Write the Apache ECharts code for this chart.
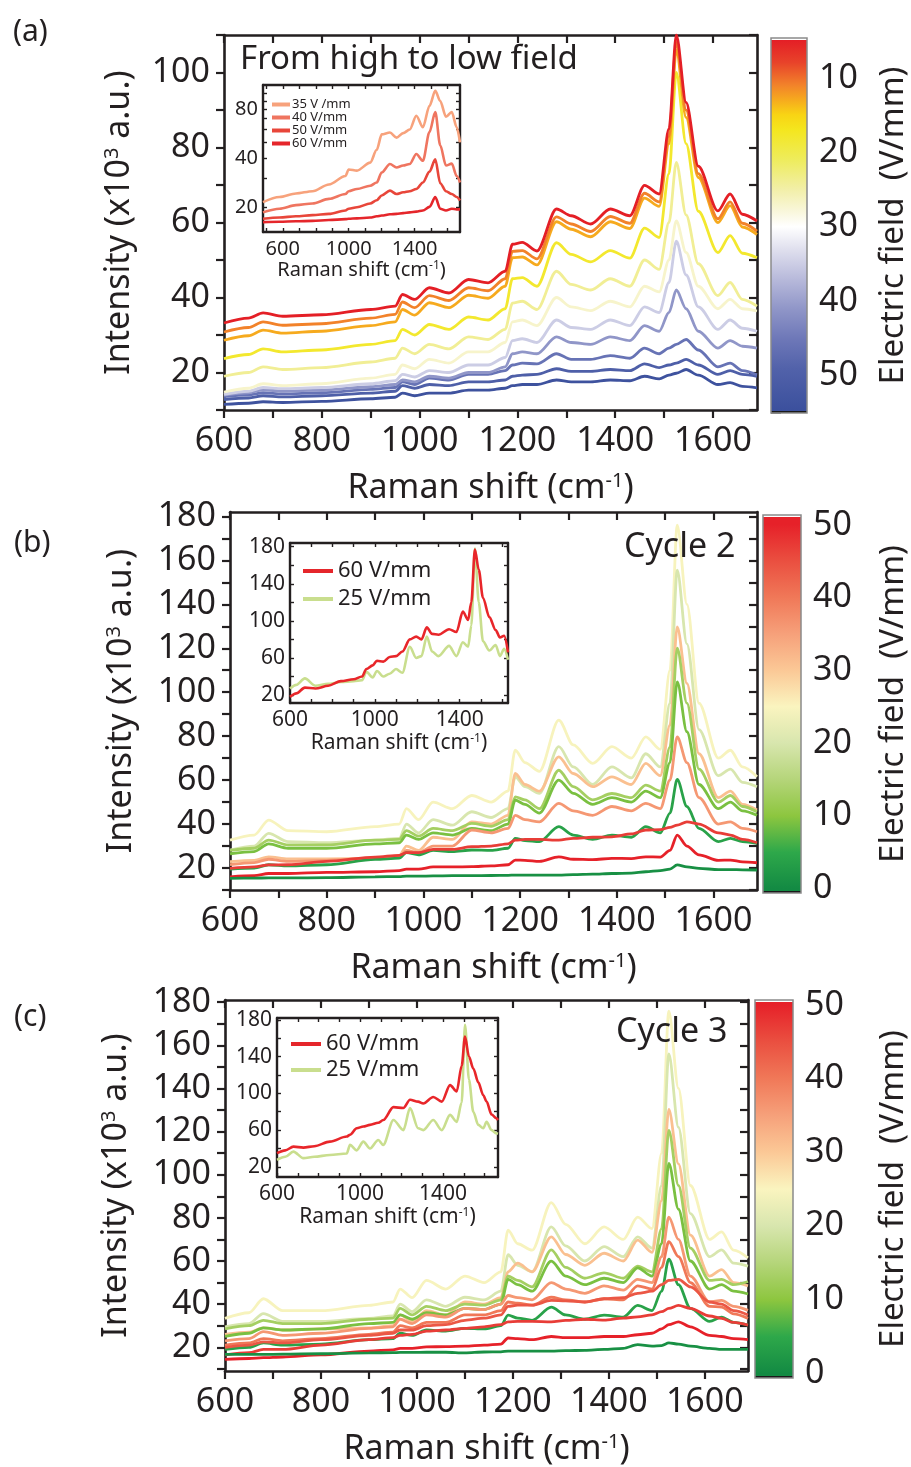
<!DOCTYPE html>
<html>
<head>
<meta charset="utf-8">
<script src="https://cdn.jsdelivr.net/npm/echarts@6/dist/echarts.min.js"></script>
<style>
  html, body { margin: 0; padding: 0; background: #fff; }
  #chart { width: 911px; height: 1467px; }
</style>
</head>
<body>
<div id="chart"></div>
<script>
// ---------- data ----------
// Raman shift sampling (cm-1) shared by all main-panel spectra
const shift = [600, 650, 680, 720, 800, 900, 950, 965, 990, 1020, 1060, 1100, 1140, 1175, 1190, 1210,
               1240, 1280, 1310, 1350, 1390, 1430, 1460, 1490, 1510, 1525, 1545, 1570, 1610, 1635, 1660, 1690];

// Panel (a): spectra recorded from high to low field, intensity in 10^3 a.u.
const fieldA = [5, 11, 13, 18, 24, 27, 35, 41, 46, 50, 54];
const specA1 = [33.2,34.5,35.9,35.0,35.4,36.8,37.7,40.8,39.5,42.6,41.2,44.8,43.9,47.0,54.2,54.7,52.4,63.6,61.8,59.6,63.6,61.8,69.9,67.6,85.0,110.0,92.0,75.0,63.1,67.6,62.2,60.4];
const specA2 = [30.8,32.0,33.5,32.6,33.0,34.5,35.5,38.8,37.3,40.5,39.2,42.6,41.8,45.0,52.3,52.5,50.3,61.5,59.6,57.6,61.6,59.8,67.8,65.5,83.0,108.0,90.0,73.0,61.0,65.5,59.8,57.7];
const specA3 = [28.6,29.8,31.3,30.5,31.0,32.5,33.5,36.8,35.3,38.6,37.3,40.6,39.8,43.0,50.6,50.8,48.7,60.2,58.2,56.2,60.2,58.4,66.5,64.3,81.0,106.0,88.0,72.0,60.0,64.5,58.8,56.8];
const specA4 = [23.7,24.8,26.3,25.5,26.0,27.5,28.5,31.5,30.0,32.8,31.5,34.8,34.0,37.0,45.0,45.3,43.0,54.6,51.5,49.5,52.5,50.5,58.5,56.0,73.0,100.0,81.0,63.0,52.0,56.5,51.8,50.6];
const specA5 = [19.0,20.0,21.5,20.8,21.3,22.8,23.8,26.5,25.0,27.5,26.3,29.5,28.8,31.5,38.5,39.0,36.8,47.0,43.5,42.0,45.0,43.0,50.0,47.5,60.0,76.0,62.0,49.0,40.5,44.0,39.5,37.7];
const specA6 = [14.8,15.8,17.0,16.5,17.0,18.5,19.5,22.0,21.0,23.5,22.5,25.5,25.5,28.0,33.5,34.0,32.5,40.0,37.5,36.5,39.0,37.5,43.0,41.5,50.0,60.4,52.0,43.0,37.0,39.5,37.0,36.4];
const specA7 = [14.2,15.0,16.0,15.7,16.0,17.0,17.8,19.5,18.8,20.5,20.0,22.0,22.0,24.0,28.5,29.0,28.0,34.0,32.0,31.5,34.0,32.5,37.5,36.0,44.0,55.0,46.0,37.5,31.5,34.0,31.8,31.0];
const specA8 = [14.0,14.6,15.4,15.0,15.3,16.2,16.8,18.0,17.5,19.0,18.5,20.0,20.0,21.5,25.0,25.5,25.0,29.5,28.0,27.5,29.5,28.5,32.5,31.0,36.0,42.0,37.0,31.0,26.5,28.5,27.0,26.5];
const specA9 = [13.6,14.0,14.6,14.3,14.6,15.5,16.0,17.5,16.8,18.5,18.0,19.5,19.5,20.5,22.0,22.5,22.3,25.0,23.5,23.5,24.5,23.8,26.5,25.0,26.5,27.5,28.8,26.0,21.5,22.5,20.5,19.4];
const specA10 = [12.8,13.2,13.8,13.5,13.8,14.5,15.0,16.5,15.8,16.8,16.5,17.5,17.5,18.0,19.0,19.3,19.5,21.0,20.3,20.3,20.8,20.5,22.3,21.3,22.0,22.5,23.5,22.0,19.5,20.5,19.5,19.0];
const specA11 = [11.5,11.8,12.2,12.0,12.3,13.0,13.4,14.5,13.8,14.5,14.5,15.3,15.3,15.8,16.5,16.8,16.8,18.0,17.5,17.5,18.0,17.8,19.0,18.3,19.3,19.8,20.8,19.3,16.8,17.3,16.3,15.9];
const spectraA = [specA1, specA2, specA3, specA4, specA5, specA6, specA7, specA8, specA9, specA10, specA11];

// Panel (a) inset
const insetShiftA = [480,580,680,780,880,980,1000,1050,1130,1170,1200,1250,1290,1330,1370,1410,1450,1490,1525,1555,1590,1625,1655,1675];
const insetNamesA = ['35 V /mm', '40 V/mm', '50 V/mm', '60 V/mm'];
const insA35 = [21.4,23.0,24.2,25.0,27.5,31.0,34.0,33.5,37.5,45.0,56.0,57.5,53.5,57.0,60.0,73.0,62.0,84.0,104.0,90.0,72.0,77.0,62.0,50.0];
const insA40 = [18.5,19.5,20.5,21.0,22.4,24.0,25.0,25.8,27.0,28.3,32.6,36.8,35.0,36.0,36.8,42.4,38.5,58.0,77.0,48.0,36.0,37.0,31.0,28.3];
const insA50 = [16.9,17.2,17.5,17.8,18.1,19.0,19.5,19.9,21.0,22.0,23.5,25.2,24.0,24.6,25.0,25.8,28.3,33.0,39.3,28.0,25.0,24.0,23.0,21.9];
const insA60 = [16.1,16.2,16.3,16.4,16.6,16.8,16.9,17.0,17.2,17.5,17.7,18.0,18.1,18.3,18.5,18.7,19.0,20.0,23.0,19.5,19.0,19.5,19.3,19.3];

// Panel (b): cycle 2
const fieldB = [24.5, 20, 31, 13, 9, 36, 4, 47, 50, 1];
const specB1 = [32.7,35.0,41.8,37.0,36.5,38.8,40.0,47.0,42.0,50.0,47.0,53.0,50.0,55.0,73.6,68.0,64.0,87.3,76.0,67.6,75.2,70.0,79.7,74.0,110.0,176.0,140.0,95.0,70.0,73.6,66.0,61.5];
const specB2 = [28.2,30.0,35.8,32.0,31.5,32.7,33.5,40.0,36.0,42.0,39.5,45.6,43.0,47.0,61.5,57.0,54.0,75.2,66.0,58.0,66.0,61.0,72.0,66.0,95.0,155.5,122.0,83.0,62.0,65.0,59.0,57.0];
const specB3 = [22.9,23.5,25.1,24.2,24.2,24.4,25.5,30.0,28.0,34.0,33.0,41.0,40.0,44.0,63.0,58.0,55.0,70.6,63.0,57.0,61.5,58.0,67.6,62.0,85.0,129.7,104.0,72.0,52.0,55.0,49.0,46.4];
const specB4 = [28.0,29.0,32.7,30.5,30.5,32.7,33.0,37.0,34.5,38.0,37.0,40.3,39.0,42.0,52.4,51.0,47.0,64.5,57.0,51.0,53.9,52.0,57.7,55.0,75.0,120.0,95.0,65.0,50.0,53.0,48.0,45.6];
const specB5 = [26.5,27.5,31.0,29.0,29.0,31.0,31.5,35.0,33.0,36.0,35.0,38.0,37.0,40.0,50.9,49.0,45.0,60.0,54.0,49.0,52.0,50.0,55.0,52.0,68.0,104.7,82.0,58.0,47.0,50.0,46.0,44.0];
const specB6 = [21.5,22.5,24.0,23.0,23.5,24.5,25.0,28.0,27.0,30.0,30.0,37.3,36.0,38.0,44.0,42.0,41.0,49.4,46.0,44.0,48.0,46.0,49.4,47.0,60.0,79.7,68.0,52.0,40.0,41.0,38.0,36.5];
const specB7 = [19.5,20.0,21.5,21.0,21.5,23.9,24.5,27.0,26.0,28.0,27.5,28.2,28.0,29.0,33.5,32.5,32.0,38.8,35.0,33.0,35.0,34.0,38.8,36.0,45.0,60.3,48.0,38.0,32.0,33.5,32.0,31.2];
const specB8 = [19.8,20.5,21.4,21.5,23.0,25.0,25.8,27.0,27.0,28.5,28.5,29.7,30.0,31.0,32.7,33.0,33.0,32.7,33.5,34.0,34.2,35.5,37.3,37.5,38.5,39.5,41.0,40.0,36.0,35.0,33.0,31.5];
const specB9 = [16.0,16.5,17.5,17.5,18.0,18.3,18.8,19.5,19.5,20.5,20.5,20.6,21.0,21.5,23.6,23.5,23.0,25.1,24.0,23.8,24.4,24.3,25.1,25.0,28.0,35.0,30.0,26.0,23.5,23.6,22.8,22.4];
const specB10 = [15.3,15.4,15.5,15.5,15.6,16.0,16.1,16.3,16.3,16.4,16.5,16.5,16.6,16.7,16.8,16.8,16.8,16.8,17.0,17.2,17.5,17.7,18.3,18.8,19.5,21.4,20.5,19.8,19.3,19.3,19.2,19.1];
const spectraB = [specB1, specB2, specB3, specB4, specB5, specB6, specB7, specB8, specB9, specB10];

// Panel (b) inset
const insetShiftB = [600,630,670,720,780,840,900,940,960,990,1010,1040,1070,1100,1130,1165,1195,1220,1245,1270,1300,1350,1385,1415,1440,1455,1472,1490,1510,1540,1570,1590,1610,1628];
const insB60 = [18,21.8,28,27,30,35,37,40,48,52,57,56,61,62,67,80,83,80,93,86,85,91,88,110,101,120,177,155,125,104,90,82,84,66];
const insB25 = [27,31,38,30,32,34,35,36,45,39,46,40,43,48,44,72,60,62,83,67,62,73,62,77,72,95,178,120,78,68,74,62,70,58];

// Panel (c): cycle 3
const fieldC = [24.5, 20, 31, 13, 9, 36, 40, 4, 44, 47, 50, 1];
const specC1 = [33.4,36.0,42.5,37.0,37.0,39.4,41.0,47.0,43.0,51.0,47.0,53.0,50.0,55.0,74.3,68.0,65.0,87.1,77.0,68.0,75.8,70.0,80.3,75.0,110.0,175.8,140.0,95.0,70.0,73.5,65.0,61.4];
const specC2 = [29.5,31.0,35.6,32.0,32.0,33.4,34.5,40.0,36.5,42.0,39.0,43.2,42.0,46.0,62.9,58.0,55.0,75.8,67.0,60.0,66.7,62.0,71.2,66.0,95.0,156.0,122.0,82.0,62.0,65.2,59.0,57.6];
const specC3 = [26.0,27.0,29.0,28.0,28.5,29.0,30.0,35.0,32.0,37.0,35.0,41.0,40.0,43.0,55.0,59.0,55.0,71.2,63.0,58.0,63.6,60.0,69.7,64.0,88.0,130.3,105.0,72.0,53.0,56.0,50.0,48.5];
const specC4 = [28.5,30.0,32.5,31.0,31.0,33.0,33.5,38.0,35.0,39.0,37.0,40.0,39.5,42.0,53.0,51.0,48.0,65.2,57.0,52.0,54.5,52.0,57.6,55.0,75.0,120.5,95.0,66.0,51.0,51.5,49.0,50.5];
const specC5 = [25.0,26.5,29.0,28.0,28.5,31.0,31.5,35.0,33.0,36.0,35.0,38.0,37.5,40.0,51.5,49.0,46.0,59.9,53.0,49.0,52.0,50.0,56.8,53.0,68.0,105.3,84.0,60.0,47.0,49.0,46.0,44.7];
const specC6 = [23.0,24.0,27.3,25.5,26.5,28.8,29.5,33.0,31.0,35.0,34.0,38.0,37.5,40.0,44.0,43.0,42.0,50.0,47.0,45.0,48.5,46.5,51.5,50.0,62.0,80.3,70.0,53.0,41.0,41.7,39.0,37.1];
const specC7 = [21.0,22.0,24.0,23.0,24.0,26.0,27.0,30.0,29.0,31.5,31.5,35.0,35.0,37.0,41.0,40.5,39.5,43.2,42.0,41.0,42.5,42.0,48.5,47.0,57.0,69.0,62.0,50.0,39.0,38.6,35.5,33.4];
const specC8 = [19.0,20.0,22.0,21.0,21.5,23.5,24.0,26.5,25.5,28.0,27.5,28.8,28.5,30.0,34.9,33.5,32.5,38.6,35.0,33.0,34.9,34.0,39.4,37.0,46.0,60.9,49.0,38.0,32.0,34.0,31.5,30.3];
const specC9 = [20.0,21.0,22.5,22.0,23.5,25.5,26.5,28.0,28.0,30.0,30.5,32.5,33.5,35.0,39.0,39.5,39.5,41.7,41.5,41.0,42.5,43.0,45.0,46.0,49.0,51.0,51.5,48.0,41.0,40.0,37.0,35.0];
const specC10 = [16.5,17.5,19.0,19.0,21.0,23.5,24.5,25.5,26.0,27.5,28.0,28.8,29.5,30.5,31.8,32.0,32.0,31.8,32.5,33.0,32.6,33.5,34.1,35.0,36.5,38.0,39.4,38.0,34.5,33.4,31.5,30.3];
const specC11 = [14.4,14.8,15.2,15.5,16.5,18.2,18.8,19.5,19.5,20.2,20.3,20.5,21.0,21.5,24.3,24.0,23.5,25.0,24.5,24.5,25.0,25.0,25.8,26.5,28.5,30.5,31.8,29.5,25.5,25.0,24.0,23.5];
const specC12 = [16.7,16.7,16.7,16.8,17.0,17.4,17.5,17.6,17.6,17.7,17.7,17.4,17.8,17.9,18.2,18.2,18.2,18.2,18.4,18.6,19.0,19.5,21.2,20.5,20.8,22.0,21.5,20.5,19.5,19.0,19.0,19.0];
const spectraC = [specC1, specC2, specC3, specC4, specC5, specC6, specC7, specC8, specC9, specC10, specC11, specC12];

// Panel (c) inset
const insetShiftC = [600,640,679,727,780,855,936,952,984,1016,1048,1088,1112,1161,1209,1241,1280,1305,1353,1394,1434,1466,1490,1506,1525,1546,1570,1594,1610,1634,1657,1665];
const insC60 = [34.9,38,42,41,42.5,47.5,53,55,62,64,65.7,68,71,85,84,93,91,89,96,91,109,102,130,161.8,140,127,112,98,91,77,73,71];
const insC25 = [27.6,31,36.6,29.5,31,33,34.6,43.9,38,47.5,40,49.3,43.9,71,60,83.9,62,60,71,60,76.6,69,90,174.5,115,80,65.7,62,69,60,56.5,56];

// Tick and label values
const xTickVals = [600,700,800,900,1000,1100,1200,1300,1400,1500,1600];
const xLabelVals = [600,800,1000,1200,1400,1600];
const yTicksA = [10,20,30,40,50,60,70,80,90,100,110];
const yLabelsA = [20,40,60,80,100];
const yTicksBC = [10,20,30,40,50,60,70,80,90,100,110,120,130,140,150,160,170,180];
const yLabelsBC = [20,40,60,80,100,120,140,160,180];
const insetXLabels = [600,1000,1400];
const cbarTicksA = [5,10,15,20,25,30,35,40,45,50,55];
const cbarLabelsA = [10,20,30,40,50];
const cbarTicksBC = [0,5,10,15,20,25,30,35,40,45,50];
const cbarLabelsBC = [0,10,20,30,40,50];

// ---------- colour maps (field in V/mm -> colour) ----------
const cmapA = [[5,'#e41f26'],[8,'#e8432a'],[11,'#f2822a'],[13,'#f6aa1e'],[15,'#f8d414'],[17,'#f4e61e'],
               [21,'#eeec5c'],[25,'#f2efa8'],[28,'#f9f7dc'],[30,'#ffffff'],[33,'#e0e0ee'],[37,'#b8badb'],
               [41,'#9096c8'],[45,'#6e78b8'],[49,'#5262aa'],[55,'#3a4f9c']];
const cmapBC = [[0,'#138a43'],[5,'#2ea84a'],[10,'#8dc63f'],[15,'#b5d57a'],[20,'#d8e6ae'],[25,'#faf4bf'],
                [30,'#fbc896'],[35,'#f6a07a'],[40,'#f07858'],[45,'#ea4f40'],[50,'#e62129']];

function rgb(h) { return [1,3,5].map(i => parseInt(h.slice(i, i + 2), 16)); }
function colorAt(cmap, v) {
  if (v <= cmap[0][0]) return cmap[0][1];
  for (let i = 1; i < cmap.length; i++) {
    if (v <= cmap[i][0]) {
      const t = (v - cmap[i - 1][0]) / (cmap[i][0] - cmap[i - 1][0]);
      const a = rgb(cmap[i - 1][1]), b = rgb(cmap[i][1]);
      return 'rgb(' + a.map((c, k) => Math.round(c + (b[k] - c) * t)).join(',') + ')';
    }
  }
  return cmap[cmap.length - 1][1];
}

// ---------- layout helpers ----------
const FONT = 'Noto Sans';
const INK = '#231f20';
const plain = v => String(Math.round(v));
const grids = [], xAxes = [], yAxes = [], series = [];

function sup(main, s, size, supSize) {
  return {
    text: '{t|' + main[0] + '}{s|' + s + '}{t|' + main[1] + '}',
    rich: {
      t: { fontSize: size, fontFamily: FONT, color: INK },
      s: { fontSize: supSize, fontFamily: FONT, color: INK, verticalAlign: 'top' }
    }
  };
}

// a framed plot: labelled bottom/left axes plus mirrored top/right axes
function framedPlot(box, c) {
  const g = grids.length;
  grids.push(Object.assign({ containLabel: false }, box, c.bg ? { show: true, backgroundColor: '#fff', borderWidth: 0 } : {}));
  const line = { show: true, onZero: false, lineStyle: { color: INK, width: c.lw } };
  const xi = xAxes.length, yi = yAxes.length;
  const xn = sup(['Raman shift (cm', ')'], '-1', c.nameSize, c.supSize);
  xAxes.push({
    gridIndex: g, type: 'value', min: c.x[0], max: c.x[1], position: 'bottom',
    axisLine: line,
    axisTick: { show: true, inside: c.inTick, length: c.tick, customValues: c.xTicks, lineStyle: { color: INK, width: c.tw } },
    axisLabel: { customValues: c.xLabels, formatter: plain, color: INK, fontSize: c.fs, fontFamily: FONT, margin: c.xm },
    splitLine: { show: false },
    name: xn.text, nameLocation: 'middle', nameGap: c.xGap, nameTextStyle: { rich: xn.rich }
  });
  xAxes.push({
    gridIndex: g, type: 'value', min: c.x[0], max: c.x[1], position: 'top',
    axisLine: line,
    axisTick: { show: true, inside: true, length: c.tick, customValues: c.xTicks, lineStyle: { color: INK, width: c.tw } },
    axisLabel: { show: false }, splitLine: { show: false }
  });
  const yl = {
    gridIndex: g, type: c.yType || 'value', min: c.y[0], max: c.y[1], position: 'left',
    axisLine: line,
    axisTick: { show: true, inside: c.inTick, length: c.tick, customValues: c.yTicks, lineStyle: { color: INK, width: c.tw } },
    axisLabel: { customValues: c.yLabels, formatter: plain, color: INK, fontSize: c.fs, fontFamily: FONT, margin: c.ym },
    splitLine: { show: false }, minorSplitLine: { show: false }
  };
  if (c.yName) {
    const yn = sup(['Intensity (x10', ' a.u.)'], '3', c.nameSize, c.supSize);
    Object.assign(yl, { name: yn.text, nameLocation: 'middle', nameRotate: 90, nameGap: c.yGap, nameTextStyle: { rich: yn.rich } });
  }
  yAxes.push(yl);
  yAxes.push({
    gridIndex: g, type: c.yType || 'value', min: c.y[0], max: c.y[1], position: 'right',
    axisLine: line,
    axisTick: { show: true, inside: true, length: c.tick, customValues: c.yTicks, lineStyle: { color: INK, width: c.tw } },
    axisLabel: { show: false }, splitLine: { show: false }
  });
  return { x: xi, y: yi };
}

function addLine(ax, xs, ys, color, width, name, z) {
  series.push({
    type: 'line', name: name, xAxisIndex: ax.x, yAxisIndex: ax.y,
    data: xs.map((x, i) => [x, ys[i]]),
    showSymbol: false, smooth: 0.3, smoothMonotone: 'x', z: z || 2,
    color: color, lineStyle: { color: color, width: width }, silent: true
  });
}

// colour bar: its own grid, a value axis on the right, and a gradient rect
function colorBar(box, c) {
  const g = grids.length;
  grids.push(Object.assign({}, box));
  const xi = xAxes.length, yi = yAxes.length;
  xAxes.push({ gridIndex: g, type: 'value', min: 0, max: 1, show: false });
  yAxes.push({
    gridIndex: g, type: 'value', min: c.lo, max: c.hi, inverse: !!c.inverse, position: 'right',
    axisLine: { show: false },
    axisTick: { show: true, inside: false, length: 10, customValues: c.ticks, lineStyle: { color: '#555', width: 1.5 } },
    axisLabel: { customValues: c.labels, formatter: plain, color: INK, fontSize: 34, fontFamily: FONT, margin: 12 },
    splitLine: { show: false },
    name: 'Electric field  (V/mm)', nameLocation: 'middle', nameRotate: 90, nameGap: c.nameGap,
    nameTextStyle: { fontSize: 33, fontFamily: FONT, color: INK }
  });
  const span = c.hi - c.lo;
  const off = v => (v - c.lo) / span;
  series.push({
    type: 'custom', xAxisIndex: xi, yAxisIndex: yi, silent: true,
    data: [[0.5, (c.lo + c.hi) / 2]],
    renderItem(params, api) {
      const p = api.coord([0, c.lo]), q = api.coord([1, c.hi]);
      const stops = [{ offset: 0, color: c.loStrip[1] }, { offset: off(c.loStrip[0]), color: c.loStrip[1] },
                     { offset: off(c.loStrip[0]) + 0.0005, color: colorAt(c.cmap, c.loStrip[0]) }];
      c.cmap.forEach(([v, col]) => {
        if (v > c.loStrip[0] && v < c.hiStrip[0]) stops.push({ offset: off(v), color: col });
      });
      stops.push({ offset: off(c.hiStrip[0]) - 0.0005, color: colorAt(c.cmap, c.hiStrip[0]) });
      stops.push({ offset: off(c.hiStrip[0]), color: c.hiStrip[1] }, { offset: 1, color: c.hiStrip[1] });
      const down = p[1] < q[1];
      return {
        type: 'rect',
        shape: { x: Math.min(p[0], q[0]), y: Math.min(p[1], q[1]), width: Math.abs(q[0] - p[0]), height: Math.abs(q[1] - p[1]) },
        style: {
          fill: new echarts.graphic.LinearGradient(0, down ? 0 : 1, 0, down ? 1 : 0, stops),
          stroke: '#8a8a8a', lineWidth: 1.5
        }
      };
    }
  });
}

// ---------- main panels ----------
const mainCommon = {
  lw: 2.6, tw: 2.2, tick: 8, inTick: false, fs: 34, xm: 14, ym: 14,
  nameSize: 34, supSize: 20, xGap: 61, yGap: 88, yName: true,
  xTicks: xTickVals, xLabels: xLabelVals, x: [600, 1690]
};
const axA = framedPlot({ left: 224, top: 35, width: 533, height: 375 },
  Object.assign({}, mainCommon, { y: [10, 110], yTicks: yTicksA, yLabels: yLabelsA }));
const axB = framedPlot({ left: 230, top: 512, width: 527, height: 378 },
  Object.assign({}, mainCommon, { y: [10, 182], yTicks: yTicksBC, yLabels: yLabelsBC, yGap: 92 }));
const axC = framedPlot({ left: 225, top: 1000, width: 523, height: 377 },
  Object.assign({}, mainCommon, { y: [9, 181], yTicks: yTicksBC, yLabels: yLabelsBC, yGap: 92 }));

// ---------- insets ----------
const insetCommon = {
  lw: 2.4, tw: 1.4, tick: 4, inTick: true, xm: 7, ym: 5,
  supSize: 12, yName: false, bg: true, xLabels: insetXLabels
};
const axIA = framedPlot({ left: 263, top: 85, width: 197, height: 147 },
  Object.assign({}, insetCommon, {
    fs: 20, nameSize: 20, xGap: 26, x: [480, 1675], y: [14, 113], yType: 'log',
    xTicks: [500,600,700,800,900,1000,1100,1200,1300,1400,1500,1600],
    yTicks: [20,30,40,50,60,70,80,90,100], yLabels: [20, 40, 80]
  }));
const axIB = framedPlot({ left: 290, top: 543, width: 218, height: 160 },
  Object.assign({}, insetCommon, {
    fs: 21, nameSize: 21, xGap: 30, x: [600, 1628], y: [11.4, 184],
    xTicks: [600,700,800,900,1000,1100,1200,1300,1400,1500,1600],
    yTicks: [20,40,60,80,100,120,140,160,180], yLabels: [20, 60, 100, 140, 180]
  }));
const axIC = framedPlot({ left: 277, top: 1018, width: 221, height: 159 },
  Object.assign({}, insetCommon, {
    fs: 21, nameSize: 21, xGap: 30, x: [600, 1665], y: [9, 182],
    xTicks: [600,700,800,900,1000,1100,1200,1300,1400,1500,1600],
    yTicks: [20,40,60,80,100,120,140,160,180], yLabels: [20, 60, 100, 140, 180]
  }));

// ---------- colour bars ----------
colorBar({ left: 771, top: 38, width: 36, height: 375 }, {
  lo: 4.6, hi: 55.1, inverse: true, cmap: cmapA, ticks: cbarTicksA, labels: cbarLabelsA,
  loStrip: [5.0, '#ffffff'], hiStrip: [54.7, '#1a1a1a'], nameGap: 70
});
colorBar({ left: 763, top: 515, width: 38, height: 378 }, {
  lo: -0.7, hi: 51.4, cmap: cmapBC, ticks: cbarTicksBC, labels: cbarLabelsBC,
  loStrip: [-0.3, '#1a1a1a'], hiStrip: [51.0, '#ffffff'], nameGap: 76
});
colorBar({ left: 755, top: 1000, width: 38, height: 378 }, {
  lo: -0.7, hi: 50.7, cmap: cmapBC, ticks: cbarTicksBC, labels: cbarLabelsBC,
  loStrip: [-0.3, '#1a1a1a'], hiStrip: [50.3, '#ffffff'], nameGap: 84
});

// ---------- spectra ----------
for (let i = spectraA.length - 1; i >= 0; i--) addLine(axA, shift, spectraA[i], colorAt(cmapA, fieldA[i]), 2.8, 'a' + i);
spectraB.forEach((s, i) => addLine(axB, shift, s, colorAt(cmapBC, fieldB[i]), 2.8, 'b' + i));
spectraC.forEach((s, i) => addLine(axC, shift, s, colorAt(cmapBC, fieldC[i]), 2.8, 'c' + i));

const insetColorsA = ['#f7a27c', '#ef7560', '#e8463a', '#e5262b'];
[insA35, insA40, insA50, insA60].forEach((s, i) => addLine(axIA, insetShiftA, s, insetColorsA[i], 2.6, insetNamesA[i], 5));
addLine(axIB, insetShiftB, insB25, '#c9de8e', 2.6, '25 V/mm', 5);
addLine(axIB, insetShiftB, insB60, '#e8262a', 2.6, '60 V/mm', 5);
addLine(axIC, insetShiftC, insC25, '#c9de8e', 2.6, '25 V/mm', 5);
addLine(axIC, insetShiftC, insC60, '#e8262a', 2.6, '60 V/mm', 5);

// ---------- text ----------
const titleStyle = (size) => ({ fontSize: size, fontFamily: FONT, color: INK, fontWeight: 'normal' });
const option = {
  animation: false,
  backgroundColor: '#fff',
  textStyle: { fontFamily: FONT },
  title: [
    { text: '(a)', left: 8, top: 12, textStyle: titleStyle(30) },
    { text: '(b)', left: 9, top: 523, textStyle: titleStyle(30) },
    { text: '(c)', left: 9, top: 997, textStyle: titleStyle(30) },
    { text: 'From high to low field', left: 235, top: 38, textStyle: titleStyle(33) },
    { text: 'Cycle 2', left: 619, top: 525, textStyle: titleStyle(34) },
    { text: 'Cycle 3', left: 611, top: 1010, textStyle: titleStyle(34) }
  ],
  legend: [
    { data: insetNamesA, left: 267, top: 93, orient: 'vertical', icon: 'rect', itemWidth: 18, itemHeight: 4,
      itemGap: 0, textStyle: { fontSize: 13, fontFamily: FONT, color: INK, lineHeight: 13, padding: [0, 0, 0, -3] }, selectedMode: false },
    { data: ['60 V/mm', '25 V/mm'], left: 298, top: 555, orient: 'vertical', icon: 'rect', itemWidth: 30, itemHeight: 4,
      itemGap: 6, textStyle: { fontSize: 22, fontFamily: FONT, color: INK }, selectedMode: false },
    { data: ['60 V/mm', '25 V/mm'], left: 286, top: 1028, orient: 'vertical', icon: 'rect', itemWidth: 30, itemHeight: 4,
      itemGap: 4, textStyle: { fontSize: 22, fontFamily: FONT, color: INK }, selectedMode: false }
  ],
  grid: grids,
  xAxis: xAxes,
  yAxis: yAxes,
  series: series
};

const chart = echarts.init(document.getElementById('chart'), null, { renderer: 'canvas' });
chart.setOption(option);
</script>
</body>
</html>
